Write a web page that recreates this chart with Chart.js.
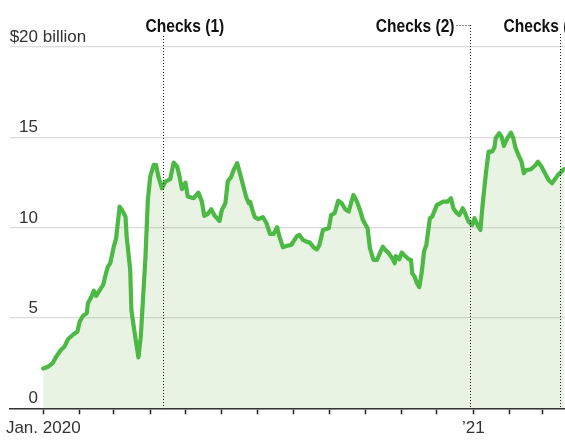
<!DOCTYPE html>
<html>
<head>
<meta charset="utf-8">
<script src="https://cdn.jsdelivr.net/npm/chart.js@4.4.1/dist/chart.umd.min.js"></script>
<style>
  html, body { margin: 0; padding: 0; background: #fff; }
  #wrap { width: 565px; height: 441px; position: relative; }
</style>
</head>
<body>
<div id="wrap"><canvas id="chart"></canvas></div>
<script>
// Weekly-smoothed spending, billions of dollars
const dates = [
  '2020-01-01','2020-01-05','2020-01-09','2020-01-12','2020-01-16','2020-01-19','2020-01-22','2020-01-27','2020-01-30',
  '2020-02-01','2020-02-04','2020-02-07','2020-02-08','2020-02-11','2020-02-13','2020-02-15','2020-02-19','2020-02-21',
  '2020-02-23','2020-02-25','2020-02-27','2020-03-01','2020-03-03','2020-03-06','2020-03-08','2020-03-11','2020-03-12',
  '2020-03-15','2020-03-16','2020-03-18','2020-03-21','2020-03-22','2020-03-24','2020-03-26','2020-03-28','2020-03-30',
  '2020-04-01','2020-04-04','2020-04-06','2020-04-08','2020-04-11','2020-04-14','2020-04-18','2020-04-21','2020-04-24',
  '2020-04-26','2020-04-28','2020-05-01','2020-05-03','2020-05-08','2020-05-12','2020-05-15','2020-05-17','2020-05-20',
  '2020-05-23','2020-05-26','2020-05-30','2020-06-01','2020-06-04','2020-06-06','2020-06-09','2020-06-11','2020-06-14',
  '2020-06-16','2020-06-19','2020-06-22','2020-06-24','2020-06-25','2020-06-27','2020-06-29','2020-07-02','2020-07-06',
  '2020-07-09','2020-07-12','2020-07-15','2020-07-18','2020-07-20','2020-07-23','2020-07-26','2020-07-30','2020-08-04',
  '2020-08-06','2020-08-09','2020-08-12','2020-08-15','2020-08-18','2020-08-21','2020-08-23','2020-08-26','2020-08-31',
  '2020-09-02','2020-09-05','2020-09-08','2020-09-11','2020-09-14','2020-09-17','2020-09-19','2020-09-21','2020-09-24',
  '2020-09-27','2020-09-29','2020-10-03','2020-10-05','2020-10-08','2020-10-11','2020-10-14','2020-10-16','2020-10-18',
  '2020-10-21','2020-10-24','2020-10-26','2020-10-27','2020-10-30','2020-11-01','2020-11-04','2020-11-07','2020-11-09',
  '2020-11-10','2020-11-12','2020-11-14','2020-11-16','2020-11-18','2020-11-20','2020-11-22','2020-11-25','2020-11-27',
  '2020-12-01','2020-12-04','2020-12-06','2020-12-10','2020-12-13','2020-12-15','2020-12-18','2020-12-20','2020-12-23',
  '2020-12-25','2020-12-28','2020-12-31','2021-01-02','2021-01-05','2021-01-07','2021-01-09','2021-01-12','2021-01-14',
  '2021-01-17','2021-01-19','2021-01-20','2021-01-23','2021-01-25','2021-01-27','2021-01-30','2021-02-02','2021-02-04',
  '2021-02-06','2021-02-09','2021-02-11','2021-02-13','2021-02-15','2021-02-19','2021-02-23','2021-02-25','2021-02-28',
  '2021-03-03','2021-03-06','2021-03-09','2021-03-12','2021-03-14','2021-03-17','2021-03-19'
];
const spending = [
  2.2, 2.3, 2.5, 2.86, 3.23, 3.41, 3.82, 4.11, 4.24,
  4.8, 5.13, 5.26, 5.81, 6.18, 6.51, 6.23, 6.64, 6.83,
  7.38, 7.84, 8.03, 8.95, 9.41, 11.16, 10.98, 10.61, 9.5,
  7.66, 5.44, 4.52, 3.23, 2.82, 3.96, 6.18, 8.39, 11.53,
  12.82, 13.47, 13.47, 12.82, 12.18, 12.55, 12.68, 13.6, 13.38,
  12.82, 12.13, 12.49, 11.72, 11.63, 11.94, 11.44, 10.65, 10.76,
  11.02, 10.65, 10.37, 10.98, 11.35, 12.55, 12.82, 13.19, 13.57,
  13.1, 12.36, 11.63, 11.35, 11.44, 10.98, 10.58, 10.47, 10.58,
  10.24, 9.65, 9.65, 10.02, 9.5, 8.91, 8.99, 9.04, 9.54,
  9.6, 9.32, 9.22, 9.17, 8.91, 8.8, 9.04, 9.87, 9.97,
  10.7, 10.8, 11.49, 11.35, 11.02, 10.89, 11.38, 11.81, 11.44,
  10.89, 10.43, 9.97, 8.86, 8.21, 8.21, 8.67, 8.95, 8.77,
  8.58, 8.31, 8.03, 8.43, 8.25, 8.62, 8.43, 8.25, 8.21,
  7.48, 7.29, 6.92, 6.7, 7.48, 8.67, 9.04, 10.52, 10.61,
  11.26, 11.35, 11.44, 11.44, 11.63, 11.07, 10.8, 10.7, 11.07,
  10.8, 10.33, 10.15, 10.52, 10.09, 9.87, 11.35, 13.19, 14.21,
  14.21, 14.45, 14.95, 15.23, 15.04, 14.52, 14.95, 15.26, 14.95,
  14.4, 13.93, 13.65, 13.01, 13.19, 13.23, 13.47, 13.65, 13.38,
  13.01, 12.64, 12.46, 12.73, 12.92, 13.1, 13.23
];

// Month tick marks along the bottom axis, and their labels
const monthTicks = [
  '2020-01-01','2020-02-01','2020-03-01','2020-04-01','2020-05-01','2020-06-01','2020-07-01','2020-08-01',
  '2020-09-01','2020-10-01','2020-11-01','2020-12-01','2021-01-01','2021-02-01','2021-03-01'
];
const monthLabels = ['Jan. 2020','','','','','','','','','','','','\u201921','',''];

// Value axis
const yTicks = [0, 5, 10, 15, 20];
const yTickLabels = ['0', '5', '10', '15', '$20'];
const yUnit = ' billion';

// Stimulus payment rounds
const checkDates = ['2020-04-12', '2020-12-29', '2021-03-16'];
const checkLabels = ['Checks (1)', 'Checks (2)', 'Checks (3)'];

const ORIGIN = Date.UTC(2020, 0, 1);
function dayOf(s) {
  const [y, m, d] = s.split('-').map(Number);
  return (Date.UTC(y, m - 1, d) - ORIGIN) / 86400000;
}

const points = dates.map((d, i) => ({ x: dayOf(d), y: spending[i] }));
const tickDays = monthTicks.map(dayOf);
const labelByDay = {};
tickDays.forEach((d, i) => { labelByDay[d] = monthLabels[i]; });

const TEXT_FONT = '17px "Liberation Sans", Arial, sans-serif';
const BOLD_FONT = 'bold 19px "Liberation Sans", Arial, sans-serif';
const CONDENSE = 0.82;

// Value labels sit just above their gridlines at the left edge
const yLabelPlugin = {
  id: 'yLabels',
  afterDraw(chart) {
    const { ctx } = chart;
    const y = chart.scales.y;
    ctx.save();
    ctx.font = TEXT_FONT;
    ctx.fillStyle = '#333';
    ctx.textBaseline = 'alphabetic';
    yTicks.forEach((v, i) => {
      const py = y.getPixelForValue(v) - 5;
      ctx.textAlign = 'right';
      ctx.fillText(yTickLabels[i], 38, py);
      if (i === yTicks.length - 1) {
        ctx.textAlign = 'left';
        ctx.fillText(yUnit, 38, py);
      }
    });
    ctx.restore();
  }
};

// Condensed bold heading
function condensedText(ctx, text, x, y, align) {
  ctx.save();
  ctx.translate(x, y);
  ctx.scale(CONDENSE, 1);
  ctx.textAlign = align;
  ctx.fillText(text, 0, 0);
  ctx.restore();
}

// Dotted markers for each round of checks, with their headings
const checksPlugin = {
  id: 'checks',
  afterDatasetsDraw(chart, args, opts) {
    const { ctx, chartArea } = chart;
    const x = chart.scales.x;
    ctx.save();
    ctx.strokeStyle = '#222';
    ctx.lineWidth = 1;
    ctx.setLineDash([1, 2]);
    ctx.font = BOLD_FONT;
    ctx.fillStyle = '#111';
    ctx.textBaseline = 'alphabetic';
    checkDates.forEach((d, i) => {
      const px = Math.round(x.getPixelForValue(dayOf(d))) + 0.5;
      const style = opts.styles[i];
      if (style.leader) {
        condensedText(ctx, checkLabels[i], px - 16, 32, 'right');
        ctx.beginPath();
        ctx.moveTo(px - 14, 25.5);
        ctx.lineTo(px, 25.5);
        ctx.stroke();
      } else {
        condensedText(ctx, checkLabels[i], px + style.textDx, 32, 'left');
      }
      ctx.beginPath();
      ctx.moveTo(px, style.lineTop);
      ctx.lineTo(px, chartArea.bottom);
      ctx.stroke();
    });
    ctx.restore();
  }
};

new Chart(document.getElementById('chart'), {
  type: 'line',
  data: {
    datasets: [{
      data: points,
      borderColor: '#4cb944',
      borderWidth: 4.2,
      backgroundColor: 'rgba(100,170,60,0.14)',
      fill: 'origin',
      pointRadius: 0,
      tension: 0,
      borderJoinStyle: 'round',
      borderCapStyle: 'round'
    }]
  },
  options: {
    responsive: true,
    maintainAspectRatio: false,
    animation: false,
    events: [],
    layout: { padding: { left: 10, right: 0, top: 47, bottom: 0 } },
    plugins: {
      legend: { display: false },
      tooltip: { enabled: false },
      checks: {
        styles: [
          { textDx: -18, lineTop: 36 },
          { leader: true, lineTop: 25 },
          { textDx: -57, lineTop: 34 }
        ]
      }
    },
    scales: {
      x: {
        type: 'linear',
        min: -28.3,
        max: 444,
        afterBuildTicks(scale) {
          scale.ticks = tickDays.map(v => ({ value: v }));
        },
        afterFit(scale) { scale.height = 441 - 408.3; },
        ticks: {
          autoSkip: false,
          maxRotation: 0,
          padding: 4,
          color: '#333',
          font: { family: '"Liberation Sans", Arial, sans-serif', size: 17 },
          callback: (v) => labelByDay[v] || ''
        },
        grid: {
          drawOnChartArea: false,
          drawTicks: true,
          tickLength: 6,
          tickColor: '#222',
          tickWidth: 1.5
        },
        border: { display: true, color: '#333', width: 1.6 }
      },
      y: {
        min: 0,
        max: 20,
        afterBuildTicks(scale) {
          scale.ticks = yTicks.map(v => ({ value: v }));
        },
        afterFit(scale) { scale.width = 0; },
        ticks: { display: false },
        grid: { color: '#dcdcdc', lineWidth: 1.2, drawTicks: false },
        border: { display: false }
      }
    }
  },
  plugins: [yLabelPlugin, checksPlugin]
});
</script>
</body>
</html>
